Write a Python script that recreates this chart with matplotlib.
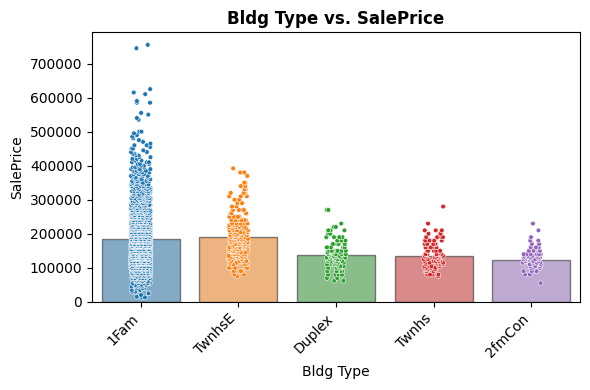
import numpy as np
import pandas as pd
import matplotlib
matplotlib.use('Agg')
import matplotlib.pyplot as plt
import seaborn as sns

# categories and bar heights (mean SalePrice)
bldg_types = ['1Fam', 'TwnhsE', 'Duplex', 'Twnhs', '2fmCon']
bar_means = [185000, 191500, 138500, 135000, 123500]

# price levels and how many sales sit near each level, per building type
fam1_levels = [13000, 15000, 20000, 25000, 30000, 35000, 40000, 45000, 50000,
               55000, 60000, 65000, 70000, 75000, 80000, 85000, 90000, 95000,
               100000, 105000, 110000, 115000, 120000, 125000, 130000, 135000,
               140000, 145000, 150000, 155000, 160000, 165000, 170000, 175000,
               180000, 185000, 190000, 195000, 200000, 205000, 210000, 215000,
               220000, 225000, 230000, 235000, 240000, 245000, 250000, 255000,
               260000, 265000, 270000, 275000, 280000, 285000, 290000, 295000,
               300000, 305000, 310000, 315000, 320000, 325000, 330000, 335000,
               340000, 345000, 350000, 355000, 360000, 365000, 370000, 375000,
               380000, 385000, 390000, 395000, 400000, 405000, 410000, 415000,
               420000, 425000, 430000, 435000, 440000, 445000, 450000, 455000,
               460000, 465000, 470000, 475000, 480000, 485000, 490000, 495000,
               500000, 535000, 540000, 550000, 555000, 585000, 590000, 610000,
               615000, 625000, 745000, 755000]
fam1_counts = [2, 1, 1, 2, 3, 3, 4, 5, 7,
               8, 12, 13, 17, 18, 22, 23, 33, 37,
               48, 52, 63, 67, 73, 77, 84, 86,
               90, 90, 86, 84, 81, 79, 72, 68,
               66, 64, 58, 57, 56, 54, 48, 47,
               43, 42, 36, 34, 33, 32, 28, 27,
               26, 24, 21, 21, 19, 19, 16, 16,
               14, 14, 12, 12, 10, 10, 9, 9,
               8, 7, 7, 6, 6, 5, 5, 5,
               5, 4, 4, 4, 3, 3, 3, 2,
               2, 2, 2, 2, 2, 1, 2, 1,
               2, 1, 1, 1, 1, 1, 1, 1,
               2, 1, 1, 1, 1, 2, 1, 1,
               1, 1, 1, 1]

twnhse_levels = [75000, 80000, 90000, 100000, 110000, 115000, 120000, 125000,
                 130000, 135000, 140000, 145000, 150000, 155000, 160000, 165000,
                 170000, 175000, 180000, 185000, 190000, 195000, 200000, 205000,
                 210000, 215000, 220000, 225000, 230000, 240000, 250000, 260000,
                 270000, 280000, 290000, 300000, 310000, 320000, 330000, 340000,
                 350000, 370000, 380000, 392000]
twnhse_counts = [1, 2, 3, 5, 4, 4, 6, 6,
                 7, 7, 8, 8, 9, 9, 10, 10,
                 10, 10, 9, 9, 8, 8, 7, 7,
                 6, 6, 6, 5, 10, 8, 7, 6,
                 5, 4, 3, 3, 3, 3, 2, 2,
                 2, 1, 2, 1]

duplex_levels = [62000, 70000, 80000, 90000, 100000, 105000, 110000, 115000,
                 120000, 125000, 130000, 135000, 140000, 145000, 150000, 160000,
                 170000, 180000, 190000, 200000, 210000, 220000, 230000, 270000]
duplex_counts = [2, 2, 4, 6, 4, 4, 5, 5,
                 6, 6, 7, 7, 7, 6, 10, 8,
                 6, 5, 4, 3, 3, 2, 1, 2]

twnhs_levels = [75000, 80000, 90000, 95000, 100000, 105000, 110000, 115000,
                120000, 125000, 130000, 135000, 140000, 150000, 160000, 170000,
                180000, 190000, 200000, 210000, 230000, 280000]
twnhs_counts = [1, 4, 4, 4, 5, 5, 5, 6,
                5, 6, 5, 5, 9, 8, 7, 6,
                5, 4, 3, 3, 1, 1]

fmcon_levels = [55000, 80000, 90000, 100000, 105000, 110000, 115000, 120000,
                125000, 130000, 135000, 140000, 150000, 160000, 170000, 180000,
                190000, 210000, 230000]
fmcon_counts = [1, 2, 4, 3, 4, 4, 5, 5,
                5, 5, 4, 6, 4, 3, 2, 2,
                1, 1, 1]

levels = [fam1_levels, twnhse_levels, duplex_levels, twnhs_levels, fmcon_levels]
counts = [fam1_counts, twnhse_counts, duplex_counts, twnhs_counts, fmcon_counts]

frames = []
for name, lv, ct in zip(bldg_types, levels, counts):
  frames.append(pd.DataFrame({'Bldg Type': name,
                              'SalePrice': np.repeat(lv, ct)}))
df = pd.concat(frames, ignore_index=True)

palette = sns.color_palette('tab10', len(bldg_types))

np.random.seed(3)
fig, ax = plt.subplots(figsize=(5.9, 3.9), dpi=100)

# points first, translucent bars on top (as in the reference)
sns.stripplot(data=df, x='Bldg Type', y='SalePrice', hue='Bldg Type',
              order=bldg_types, hue_order=bldg_types, palette=palette,
              size=3.4, linewidth=0.4, edgecolor='white', legend=False, ax=ax)
sns.barplot(x=bldg_types, y=bar_means, hue=bldg_types, palette=palette,
            alpha=0.6, edgecolor='#333333', linewidth=1, errorbar=None,
            legend=False, ax=ax)

ax.set_title('Bldg Type vs. SalePrice', fontweight='bold')
ax.set_xlabel('Bldg Type')
ax.set_ylabel('SalePrice')
plt.setp(ax.get_xticklabels(), rotation=45, ha='right')

fig.subplots_adjust(left=0.156, right=0.983, top=0.918, bottom=0.226)
fig.savefig('out.png', dpi=100)
